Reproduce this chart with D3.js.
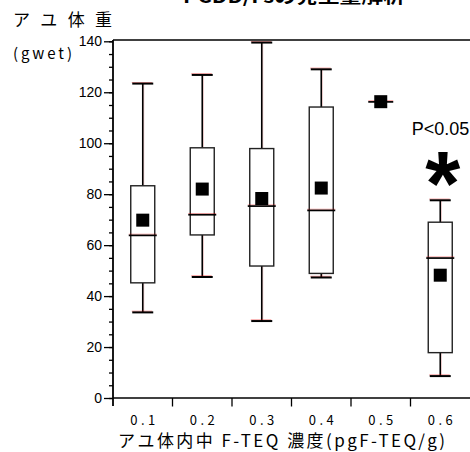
<!DOCTYPE html>
<html>
<head>
<meta charset="utf-8">
<script src="https://cdn.jsdelivr.net/npm/d3@7"></script>
<style>
  body { margin: 0; background: #fff; }
  svg { display: block; }
</style>
</head>
<body>
<div id="chart"></div>
<script>
/* ------------------------------------------------------------
   DATA
------------------------------------------------------------- */
const categories = ["0.1", "0.2", "0.3", "0.4", "0.5", "0.6"];
const mins    = [33.6, 47.5, 30.2, 47.3, 116.3, 8.6];
const q1s     = [45.2, 64.0, 51.8, 48.9, 116.3, 17.8];
const medians = [63.9, 72.0, 75.4, 73.7, 116.3, 55.0];
const q3s     = [83.3, 98.2, 97.9, 114.2, 116.3, 69.0];
const maxs    = [123.4, 126.8, 139.5, 129.0, 116.3, 77.6];
const means   = [69.8, 82.0, 78.3, 82.4, 116.3, 48.2];
const yTicks  = [0, 20, 40, 60, 80, 100, 120, 140];

const rows = categories.map((c, i) => ({
    cat: c, min: mins[i], q1: q1s[i], med: medians[i],
    q3: q3s[i], max: maxs[i], mean: means[i]
}));

/* ------------------------------------------------------------
   SVG + SCALES
------------------------------------------------------------- */
const W = 470, H = 452;
const pLeft = 113, pRight = 470, pTop = 40, pBottom = 398;

const svg = d3.select("#chart").append("svg")
    .attr("width", W).attr("height", H);

const x = d3.scaleBand().domain(categories).range([pLeft, pRight]).padding(0);
const y = d3.scaleLinear().domain([0, 140]).range([pBottom, 41.3]);

const jp = "'Noto Sans CJK JP', 'Noto Sans', sans-serif";
const arial = "'Liberation Sans', Arial, sans-serif";

/* ------------------------------------------------------------
   AXES
------------------------------------------------------------- */
// minor ticks every 5
svg.append("g")
    .attr("transform", `translate(${pLeft},0)`)
    .call(d3.axisLeft(y).tickValues(d3.range(0, 141, 5)).tickSize(4).tickSizeOuter(0).tickFormat(""))
    .call(g => g.select(".domain").remove())
    .call(g => g.selectAll("line").attr("stroke", "#000").attr("stroke-width", 1.3));

// major ticks + labels
svg.append("g")
    .attr("transform", `translate(${pLeft},0)`)
    .call(d3.axisLeft(y).tickValues(yTicks).tickSize(9).tickSizeOuter(0).tickPadding(2))
    .call(g => g.select(".domain").remove())
    .call(g => g.selectAll("line").attr("stroke", "#000").attr("stroke-width", 1.3))
    .call(g => g.selectAll("text")
        .attr("font-family", arial).attr("font-size", 14).attr("fill", "#000"));

// axis lines / frame
svg.append("line").attr("x1", pLeft).attr("x2", pLeft).attr("y1", pTop).attr("y2", 406)
    .attr("stroke", "#000").attr("stroke-width", 1.8);
svg.append("line").attr("x1", pLeft).attr("x2", pRight).attr("y1", pBottom).attr("y2", pBottom)
    .attr("stroke", "#000").attr("stroke-width", 1.4);
svg.append("line").attr("x1", pLeft).attr("x2", pRight).attr("y1", pTop).attr("y2", pTop)
    .attr("stroke", "#000").attr("stroke-width", 1.4);

// x boundary ticks
svg.append("g").selectAll("line")
    .data(categories.slice(1))
    .join("line")
    .attr("x1", d => x(d)).attr("x2", d => x(d))
    .attr("y1", pBottom).attr("y2", 406.5)
    .attr("stroke", "#000").attr("stroke-width", 1.3);

// x category labels
svg.append("g")
    .attr("transform", `translate(0,${pBottom})`)
    .call(d3.axisBottom(x).tickSize(0).tickPadding(0))
    .call(g => g.select(".domain").remove())
    .call(g => g.selectAll("text")
        .attr("dy", null).attr("y", 27)
        .attr("font-family", jp).attr("font-size", 13).attr("fill", "#000")
        .attr("textLength", 25).attr("lengthAdjust", "spacing"));

/* ------------------------------------------------------------
   BOXES
------------------------------------------------------------- */
const bw = 24, cap = 21;
const cx = d => x(d.cat) + x.bandwidth() / 2;
const g = svg.append("g");

// whiskers (faint red edge, then black)
rows.filter(d => d.max > d.min).forEach(d => {
    [[d.q3, d.max], [d.q1, d.min]].forEach(([a, b]) => {
        g.append("line").attr("x1", cx(d) + 1).attr("x2", cx(d) + 1)
            .attr("y1", y(a)).attr("y2", y(b))
            .attr("stroke", "#c00").attr("stroke-width", 0.6).attr("opacity", 0.35);
        g.append("line").attr("x1", cx(d)).attr("x2", cx(d))
            .attr("y1", y(a)).attr("y2", y(b))
            .attr("stroke", "#000").attr("stroke-width", 1.6);
    });
    [d.max, d.min].forEach(v => {
        g.append("line").attr("x1", cx(d) - cap / 2 - 0.5).attr("x2", cx(d) + cap / 2 - 1)
            .attr("y1", y(v) - 1.2).attr("y2", y(v) - 1.2)
            .attr("stroke", "#e00").attr("stroke-width", 0.6).attr("opacity", 0.7);
        g.append("line").attr("x1", cx(d) - cap / 2).attr("x2", cx(d) + cap / 2)
            .attr("y1", y(v)).attr("y2", y(v))
            .attr("stroke", "#000").attr("stroke-width", 2);
    });
});

// box bodies
g.selectAll("rect.box")
    .data(rows.filter(d => d.q3 > d.q1))
    .join("rect")
    .attr("class", "box")
    .attr("x", d => cx(d) - bw / 2)
    .attr("y", d => y(d.q3))
    .attr("width", bw)
    .attr("height", d => y(d.q1) - y(d.q3))
    .attr("fill", "#fff")
    .attr("stroke", "#222")
    .attr("stroke-width", 1.4);

// medians
rows.forEach(d => {
    const half = d.q3 > d.q1 ? bw / 2 + 2 : 12.5;
    g.append("line").attr("x1", cx(d) - half).attr("x2", cx(d) + half)
        .attr("y1", y(d.med) - 1).attr("y2", y(d.med) - 1)
        .attr("stroke", "#e00").attr("stroke-width", 0.6).attr("opacity", 0.6);
    g.append("line").attr("x1", cx(d) - half).attr("x2", cx(d) + half)
        .attr("y1", y(d.med) + 0.2).attr("y2", y(d.med) + 0.2)
        .attr("stroke", "#000").attr("stroke-width", 1.7);
});

// means
g.selectAll("rect.mean")
    .data(rows)
    .join("rect")
    .attr("class", "mean")
    .attr("x", d => cx(d) - 6.5)
    .attr("y", d => y(d.mean) - 6.5)
    .attr("width", 13).attr("height", 13)
    .attr("fill", "#000");

/* ------------------------------------------------------------
   TEXT
------------------------------------------------------------- */
svg.append("text")
    .attr("x", 183).attr("y", 2.5)
    .attr("font-family", jp).attr("font-size", 18).attr("font-weight", "bold")
    .attr("textLength", 222).attr("lengthAdjust", "spacingAndGlyphs")
    .text("PCDD/Fsの発生量解析");

svg.append("text")
    .attr("x", 13).attr("y", 26)
    .attr("font-family", jp).attr("font-size", 17)
    .attr("textLength", 99).attr("lengthAdjust", "spacing")
    .text("アユ体重");

svg.append("text")
    .attr("x", 13).attr("y", 59)
    .attr("font-family", jp).attr("font-size", 15)
    .attr("textLength", 59).attr("lengthAdjust", "spacing")
    .text("(gwet)");

svg.append("text")
    .attr("x", 118).attr("y", 447)
    .attr("font-family", jp).attr("font-size", 17)
    .attr("textLength", 327).attr("lengthAdjust", "spacing")
    .text("アユ体内中 F-TEQ 濃度(pgF-TEQ/g)");

svg.append("text")
    .attr("x", 440.5).attr("y", 135)
    .attr("text-anchor", "middle")
    .attr("font-family", arial).attr("font-size", 18)
    .text("P<0.05");

svg.append("text")
    .attr("x", 442.7).attr("y", 215)
    .attr("text-anchor", "middle")
    .attr("font-family", arial).attr("font-size", 90).attr("font-weight", "bold")
    .text("*");
</script>
</body>
</html>
